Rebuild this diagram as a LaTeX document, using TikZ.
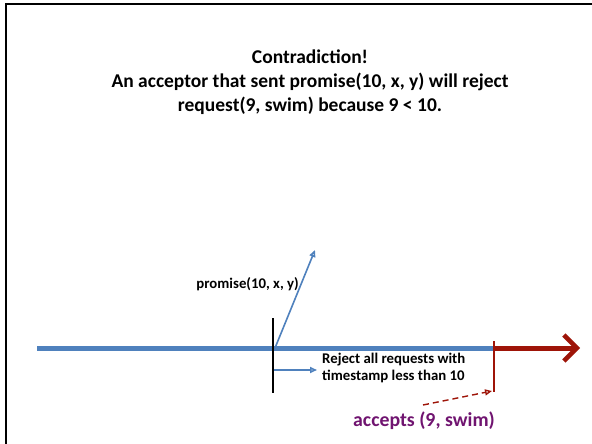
\documentclass[tikz,border=0pt]{standalone}
\usepackage{fontspec}
\setmainfont{Carlito}
\usetikzlibrary{arrows.meta}
\definecolor{lineblue}{RGB}{79,129,189}
\definecolor{darkred}{RGB}{158,20,8}
\definecolor{plum}{RGB}{112,20,112}
\tikzset{
  frameline/.style={line width=2.2pt,black},
  timeline/.style={line width=5pt,lineblue},
  msg/.style={line width=1.6pt,lineblue,-{Stealth[length=7pt,width=6pt,inset=0pt,open]}},
  tick/.style={line width=1.8pt,black},
  label/.style={font=\bfseries,inner sep=0pt,align=left},
}
\begin{document}
\begin{tikzpicture}[x=1pt,y=-1pt]
\useasboundingbox (0,0) rectangle (592,444);
\fill[white] (0,0) rectangle (592,444);
% slide frame
\draw[frameline] (6,446) -- (6,4) -- (594,4);

% title
\node[font=\bfseries\fontsize{19.5}{23.7}\selectfont,align=center,inner sep=0pt] (title) at (310,82)
  {Contradiction!\\An acceptor that sent promise(10, x, y) will reject\\request(9, swim) because 9 < 10.};

% time line
\coordinate (t0) at (37,348);
\coordinate (tsplit) at (494,348);
\coordinate (tend) at (580,348);
\draw[timeline] (t0) -- (tsplit);
\draw[line width=5pt,darkred,-{Straight Barb[length=13pt,width=26pt,line width=4.5pt]}] (tsplit) -- (tend);

% promise instant
\coordinate (ptop) at (273,318);
\coordinate (pbot) at (273,393);
\draw[tick] (ptop) -- (pbot);
\coordinate (pstart) at (275,348);
\coordinate (pend) at (315,250);
\draw[msg] (pstart) -- (pend);
\node[label,font=\bfseries\fontsize{14.8}{17}\selectfont,anchor=east] (promise) at (299,284) {promise(10, x, y)};

% rejection window
\coordinate (rstart) at (274,370);
\coordinate (rend) at (317,370);
\draw[msg] (rstart) -- (rend);
\node[label,font=\bfseries\fontsize{14.8}{17}\selectfont,anchor=north west] (reject) at (322,353)
  {Reject all requests with\\timestamp less than 10};

% accept instant
\coordinate (atop) at (494,341);
\coordinate (abot) at (494,392);
\draw[line width=1.6pt,darkred] (atop) -- (abot);
\node[font=\bfseries\fontsize{19.8}{22}\selectfont,text=plum,inner sep=0pt] (accepts) at (424,421) {accepts (9, swim)};
\coordinate (dstart) at (423,405);
\coordinate (dend) at (492,391);
\draw[line width=1.4pt,darkred,dashed,dash pattern=on 6pt off 4pt,-{Stealth[length=7pt,width=6pt,inset=0pt,open]}] (dstart) -- (dend);
\end{tikzpicture}
\end{document}
